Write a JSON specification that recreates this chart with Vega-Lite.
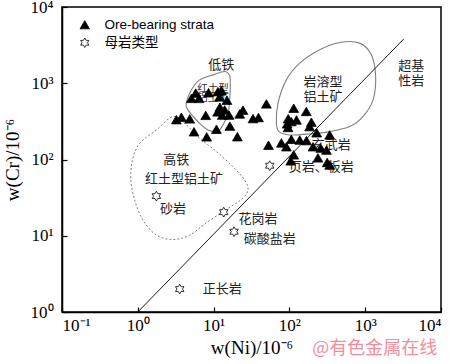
{
  "$schema": "https://vega.github.io/schema/vega-lite/v6.json",
  "width": 379,
  "height": 305,
  "autosize": "none",
  "padding": {"left": 62, "top": 7, "right": 9, "bottom": 52},
  "background": "white",
  "config": {
    "view": {"stroke": "black", "strokeWidth": 1.5},
    "axis": {
      "domainColor": "black",
      "domainWidth": 1.5,
      "tickColor": "black",
      "tickWidth": 1.2,
      "tickSize": -5,
      "grid": false,
      "labelColor": "black",
      "labelFont": "Liberation Serif",
      "labelFontSize": 17,
      "titleColor": "black",
      "titleFont": "Liberation Serif",
      "titleFontSize": 19,
      "titleFontWeight": "normal"
    }
  },
  "datasets": {
    "solidContours": [
      {"g": "low", "i": 1, "Ni": 4.37, "Cr": 547},
      {"g": "low", "i": 2, "Ni": 5.08, "Cr": 818},
      {"g": "low", "i": 3, "Ni": 6.55, "Cr": 1107},
      {"g": "low", "i": 4, "Ni": 9.82, "Cr": 1288},
      {"g": "low", "i": 5, "Ni": 14.0, "Cr": 1425},
      {"g": "low", "i": 6, "Ni": 16.3, "Cr": 1250},
      {"g": "low", "i": 7, "Ni": 16.6, "Cr": 905},
      {"g": "low", "i": 8, "Ni": 16.3, "Cr": 604},
      {"g": "low", "i": 9, "Ni": 15.5, "Cr": 404},
      {"g": "low", "i": 10, "Ni": 13.3, "Cr": 284},
      {"g": "low", "i": 11, "Ni": 11.4, "Cr": 237},
      {"g": "low", "i": 12, "Ni": 8.44, "Cr": 244},
      {"g": "low", "i": 13, "Ni": 6.22, "Cr": 314},
      {"g": "low", "i": 14, "Ni": 4.59, "Cr": 447},
      {"g": "karst", "i": 1, "Ni": 67.3, "Cr": 298},
      {"g": "karst", "i": 2, "Ni": 70.7, "Cr": 547},
      {"g": "karst", "i": 3, "Ni": 91.1, "Cr": 1107},
      {"g": "karst", "i": 4, "Ni": 137, "Cr": 1834},
      {"g": "karst", "i": 5, "Ni": 251, "Cr": 2744},
      {"g": "karst", "i": 6, "Ni": 460, "Cr": 3428},
      {"g": "karst", "i": 7, "Ni": 845, "Cr": 3358},
      {"g": "karst", "i": 8, "Ni": 1205, "Cr": 2360},
      {"g": "karst", "i": 9, "Ni": 1374, "Cr": 1225},
      {"g": "karst", "i": 10, "Ni": 1268, "Cr": 604},
      {"g": "karst", "i": 11, "Ni": 935, "Cr": 365},
      {"g": "karst", "i": 12, "Ni": 624, "Cr": 270},
      {"g": "karst", "i": 13, "Ni": 340, "Cr": 232},
      {"g": "karst", "i": 14, "Ni": 185, "Cr": 216},
      {"g": "karst", "i": 15, "Ni": 101, "Cr": 210},
      {"g": "karst", "i": 16, "Ni": 72.9, "Cr": 232}
    ],
    "dashedContour": [
      {"g": "high", "i": 1, "Ni": 2.91, "Cr": 365},
      {"g": "high", "i": 2, "Ni": 1.76, "Cr": 244},
      {"g": "high", "i": 3, "Ni": 1.06, "Cr": 163},
      {"g": "high", "i": 4, "Ni": 0.85, "Cr": 98.4},
      {"g": "high", "i": 5, "Ni": 0.81, "Cr": 53.7},
      {"g": "high", "i": 6, "Ni": 0.91, "Cr": 29.3},
      {"g": "high", "i": 7, "Ni": 1.17, "Cr": 16.0},
      {"g": "high", "i": 8, "Ni": 1.76, "Cr": 10.2},
      {"g": "high", "i": 9, "Ni": 2.91, "Cr": 8.92},
      {"g": "high", "i": 10, "Ni": 4.83, "Cr": 10.2},
      {"g": "high", "i": 11, "Ni": 8.02, "Cr": 14.8},
      {"g": "high", "i": 12, "Ni": 14.7, "Cr": 22.1},
      {"g": "high", "i": 13, "Ni": 23.2, "Cr": 29.9},
      {"g": "high", "i": 14, "Ni": 28.4, "Cr": 39.7},
      {"g": "high", "i": 15, "Ni": 25.7, "Cr": 53.7},
      {"g": "high", "i": 16, "Ni": 18.0, "Cr": 80.4},
      {"g": "high", "i": 17, "Ni": 10.9, "Cr": 127},
      {"g": "high", "i": 18, "Ni": 6.55, "Cr": 190},
      {"g": "high", "i": 19, "Ni": 4.37, "Cr": 284}
    ],
    "diagonal": [
      {"Ni": 1, "Cr": 1},
      {"Ni": 3220, "Cr": 3800}
    ],
    "smallLabels": [
      {"label": "红土型", "Ni": 9.8, "Cr": 835},
      {"label": "铝土矿", "Ni": 9.8, "Cr": 636}
    ],
    "labels": [
      {"label": "低铁", "Ni": 12.6, "Cr": 1743},
      {"label": "岩溶型", "Ni": 277, "Cr": 1040},
      {"label": "铝土矿", "Ni": 277, "Cr": 660},
      {"label": "超基", "Ni": 4060, "Cr": 1680},
      {"label": "性岩", "Ni": 4060, "Cr": 1070},
      {"label": "玄武岩", "Ni": 357, "Cr": 155},
      {"label": "页岩、板岩", "Ni": 264, "Cr": 78.8},
      {"label": "高铁", "Ni": 3.22, "Cr": 98.4},
      {"label": "红土型铝土矿", "Ni": 4.07, "Cr": 54.8},
      {"label": "砂岩", "Ni": 2.91, "Cr": 22.1},
      {"label": "花岗岩", "Ni": 38.5, "Cr": 16.8},
      {"label": "碳酸盐岩", "Ni": 55.0, "Cr": 9.2},
      {"label": "正长岩", "Ni": 13.0, "Cr": 2.0}
    ],
    "watermark": [
      {"label": "@有色金属在线", "Ni": 1334, "Cr": 0.33}
    ],
    "points": [
      {"type": "Ore-bearing strata", "Ni": 3.23, "Cr": 333},
      {"type": "Ore-bearing strata", "Ni": 3.76, "Cr": 359},
      {"type": "Ore-bearing strata", "Ni": 4.84, "Cr": 341},
      {"type": "Ore-bearing strata", "Ni": 5.51, "Cr": 231},
      {"type": "Ore-bearing strata", "Ni": 8.11, "Cr": 198},
      {"type": "Ore-bearing strata", "Ni": 7.87, "Cr": 379},
      {"type": "Ore-bearing strata", "Ni": 10.9, "Cr": 249},
      {"type": "Ore-bearing strata", "Ni": 16.4, "Cr": 274},
      {"type": "Ore-bearing strata", "Ni": 20.6, "Cr": 199},
      {"type": "Ore-bearing strata", "Ni": 33.1, "Cr": 344},
      {"type": "Ore-bearing strata", "Ni": 39.1, "Cr": 355},
      {"type": "Ore-bearing strata", "Ni": 49.7, "Cr": 536},
      {"type": "Ore-bearing strata", "Ni": 22.1, "Cr": 396},
      {"type": "Ore-bearing strata", "Ni": 24.4, "Cr": 444},
      {"type": "Ore-bearing strata", "Ni": 5.09, "Cr": 633},
      {"type": "Ore-bearing strata", "Ni": 5.81, "Cr": 743},
      {"type": "Ore-bearing strata", "Ni": 6.42, "Cr": 633},
      {"type": "Ore-bearing strata", "Ni": 8.57, "Cr": 752},
      {"type": "Ore-bearing strata", "Ni": 11.4, "Cr": 776},
      {"type": "Ore-bearing strata", "Ni": 12.7, "Cr": 794},
      {"type": "Ore-bearing strata", "Ni": 15.0, "Cr": 600},
      {"type": "Ore-bearing strata", "Ni": 12.1, "Cr": 485},
      {"type": "Ore-bearing strata", "Ni": 13.0, "Cr": 382},
      {"type": "Ore-bearing strata", "Ni": 16.0, "Cr": 382},
      {"type": "Ore-bearing strata", "Ni": 14.0, "Cr": 447},
      {"type": "Ore-bearing strata", "Ni": 11.3, "Cr": 421},
      {"type": "Ore-bearing strata", "Ni": 12.0, "Cr": 663},
      {"type": "Ore-bearing strata", "Ni": 114, "Cr": 471},
      {"type": "Ore-bearing strata", "Ni": 167, "Cr": 427},
      {"type": "Ore-bearing strata", "Ni": 96.4, "Cr": 343},
      {"type": "Ore-bearing strata", "Ni": 106, "Cr": 314},
      {"type": "Ore-bearing strata", "Ni": 124, "Cr": 330},
      {"type": "Ore-bearing strata", "Ni": 195, "Cr": 309},
      {"type": "Ore-bearing strata", "Ni": 95.9, "Cr": 263},
      {"type": "Ore-bearing strata", "Ni": 185, "Cr": 270},
      {"type": "Ore-bearing strata", "Ni": 229, "Cr": 224},
      {"type": "Ore-bearing strata", "Ni": 340, "Cr": 210},
      {"type": "Ore-bearing strata", "Ni": 53.0, "Cr": 154},
      {"type": "Ore-bearing strata", "Ni": 78.4, "Cr": 165},
      {"type": "Ore-bearing strata", "Ni": 106, "Cr": 184},
      {"type": "Ore-bearing strata", "Ni": 91.3, "Cr": 147},
      {"type": "Ore-bearing strata", "Ni": 137, "Cr": 180},
      {"type": "Ore-bearing strata", "Ni": 168, "Cr": 177},
      {"type": "Ore-bearing strata", "Ni": 205, "Cr": 147},
      {"type": "Ore-bearing strata", "Ni": 259, "Cr": 141},
      {"type": "Ore-bearing strata", "Ni": 308, "Cr": 133},
      {"type": "Ore-bearing strata", "Ni": 114, "Cr": 115},
      {"type": "Ore-bearing strata", "Ni": 238, "Cr": 105},
      {"type": "Ore-bearing strata", "Ni": 104, "Cr": 96},
      {"type": "Ore-bearing strata", "Ni": 315, "Cr": 91.4},
      {"type": "Ore-bearing strata", "Ni": 340, "Cr": 84.7},
      {"type": "Ore-bearing strata", "Ni": 93.5, "Cr": 293},
      {"type": "母岩类型", "Ni": 55.0, "Cr": 82.9},
      {"type": "母岩类型", "Ni": 1.76, "Cr": 33.1},
      {"type": "母岩类型", "Ni": 13.6, "Cr": 20.4},
      {"type": "母岩类型", "Ni": 18.6, "Cr": 11.3},
      {"type": "母岩类型", "Ni": 3.57, "Cr": 2.0}
    ]
  },
  "encoding": {
    "x": {
      "field": "Ni",
      "type": "quantitative",
      "scale": {"type": "log", "domain": [0.1, 10000], "nice": false},
      "axis": {
        "values": [0.1, 1, 10, 100, 1000, 10000],
        "labelExpr": "'10' + ['⁻¹','⁰','¹','²','³','⁴'][round(log(datum.value)/LN10) + 1]",
        "labelPadding": 10,
        "title": "w(Ni)/10⁻⁶",
        "titlePadding": 5
      }
    },
    "y": {
      "field": "Cr",
      "type": "quantitative",
      "scale": {"type": "log", "domain": [1, 10000], "nice": false},
      "axis": {
        "values": [1, 10, 100, 1000, 10000],
        "labelExpr": "'10' + ['⁰','¹','²','³','⁴'][round(log(datum.value)/LN10)]",
        "labelPadding": 14,
        "title": "w(Cr)/10⁻⁶",
        "titlePadding": 8
      }
    }
  },
  "layer": [
    {
      "data": {"name": "solidContours"},
      "mark": {"type": "line", "interpolate": "cardinal-closed", "color": "#808080", "strokeWidth": 1.1, "clip": true},
      "encoding": {
        "detail": {"field": "g", "type": "nominal"},
        "order": {"field": "i", "type": "quantitative"}
      }
    },
    {
      "data": {"name": "dashedContour"},
      "mark": {"type": "line", "interpolate": "cardinal-closed", "color": "#808080", "strokeWidth": 1, "strokeDash": [2, 2], "clip": true},
      "encoding": {
        "detail": {"field": "g", "type": "nominal"},
        "order": {"field": "i", "type": "quantitative"}
      }
    },
    {
      "data": {"name": "smallLabels"},
      "mark": {"type": "text", "font": "Noto Sans CJK SC", "fontSize": 10.5, "color": "#333333"},
      "encoding": {"text": {"field": "label"}}
    },
    {
      "data": {"name": "labels"},
      "mark": {"type": "text", "font": "Noto Sans CJK SC", "fontSize": 13, "color": "#222222"},
      "encoding": {"text": {"field": "label"}}
    },
    {
      "data": {"name": "diagonal"},
      "mark": {"type": "line", "color": "black", "strokeWidth": 0.9},
      "encoding": {}
    },
    {
      "data": {"name": "points"},
      "mark": {"type": "point", "filled": true, "stroke": "black", "strokeWidth": 0.8, "size": 95, "opacity": 1},
      "encoding": {
        "fill": {
          "field": "type",
          "type": "nominal",
          "scale": {"domain": ["Ore-bearing strata", "母岩类型"], "range": ["black", "white"]},
          "legend": {
            "orient": "none",
            "legendX": 16,
            "legendY": 11,
            "title": null,
            "padding": 0,
            "labelFont": "Liberation Sans, Noto Sans CJK SC",
            "labelFontSize": 13.5,
            "labelColor": "black",
            "symbolSize": 90,
            "symbolStrokeColor": "black",
            "symbolStrokeWidth": 0.8,
            "labelOffset": 13,
            "rowPadding": 3
          }
        },
        "shape": {
          "field": "type",
          "type": "nominal",
          "scale": {"domain": ["Ore-bearing strata", "母岩类型"], "range": ["triangle-up", "M0,-1L0.289,-0.5L0.866,-0.5L0.577,0L0.866,0.5L0.289,0.5L0,1L-0.289,0.5L-0.866,0.5L-0.577,0L-0.866,-0.5L-0.289,-0.5Z"]}
        }
      }
    },
    {
      "data": {"name": "watermark"},
      "mark": {"type": "text", "font": "Noto Sans CJK SC", "fontSize": 18, "color": "#ef8f9d"},
      "encoding": {"text": {"field": "label"}}
    }
  ]
}
